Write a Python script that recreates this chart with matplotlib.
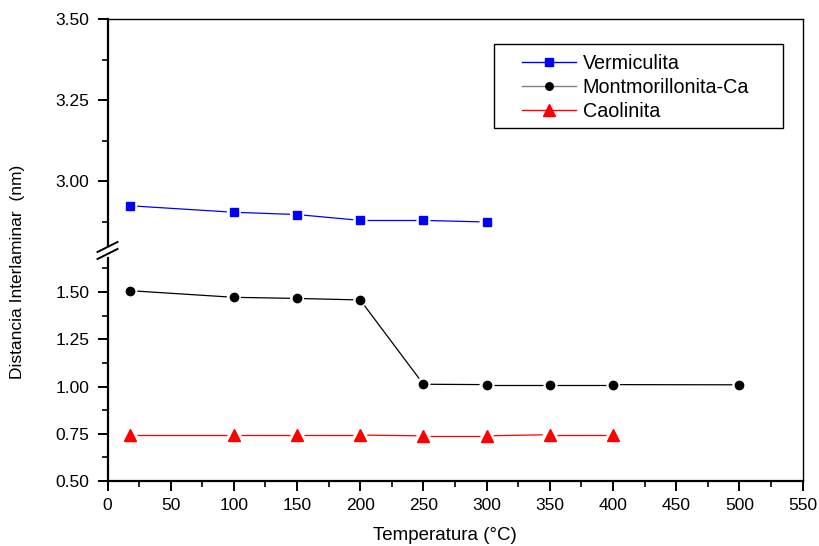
import numpy as np
import matplotlib.pyplot as plt
from matplotlib.lines import Line2D
from matplotlib.patches import Rectangle

plt.rcParams['font.family'] = ['Liberation Sans', 'DejaVu Sans']

# interlayer spacing (nm) vs temperature (C)
temp_verm = [18, 100, 150, 200, 250, 300]
d_verm = [2.924, 2.904, 2.897, 2.879, 2.879, 2.874]

temp_mont = [18, 100, 150, 200, 250, 300, 350, 400, 500]
d_mont = [1.507, 1.472, 1.466, 1.458, 1.012, 1.010, 1.010, 1.010, 1.009]

temp_caol = [18, 100, 150, 200, 250, 300, 350, 400]
d_caol = [0.743, 0.743, 0.743, 0.743, 0.739, 0.739, 0.745, 0.745]

series = [
    ('Vermiculita', temp_verm, d_verm, 's', 'blue', 'blue', 6.2),
    ('Montmorillonita-Ca', temp_mont, d_mont, 'o', 'black', 'black', 6),
    ('Caolinita', temp_caol, d_caol, '^', 'red', 'red', 9),
]

W, H = 819, 546
fig = plt.figure(figsize=(W / 100, H / 100), dpi=100)

left, right = 107.5, 802.5
def box(top_px, bot_px):
    return [left / W, 1 - bot_px / H, (right - left) / W, (bot_px - top_px) / H]

ax_top = fig.add_axes(box(19, 246))
ax_bot = fig.add_axes(box(258, 481))

ax_top.set_ylim(2.80, 3.50)
ax_bot.set_ylim(0.50, 1.68)


def gapped_line(ax, x, y, color, gap=7):
    # connect points with segments that stop short of each marker
    pts = ax.transData.transform(np.column_stack([x, y]))
    inv = ax.transData.inverted()
    for p0, p1 in zip(pts[:-1], pts[1:]):
        d = p1 - p0
        n = np.hypot(*d)
        if n <= 2 * gap:
            continue
        u = d / n
        seg = inv.transform(np.array([p0 + u * gap, p1 - u * gap]))
        ax.plot(seg[:, 0], seg[:, 1], color=color, lw=0.9,
                solid_capstyle='butt')


for ax in (ax_top, ax_bot):
    ax.set_xlim(0, 550)
    for name, x, y, mk, lc, mc, ms in series:
        gapped_line(ax, x, y, lc)
        ax.plot(x, y, ls='none', marker=mk, color=mc, ms=ms)
    ax.spines['left'].set_linewidth(1.6)
    ax.spines['right'].set_visible(False)
    ax.spines['top'].set_linewidth(1.0)
    ax.spines['bottom'].set_linewidth(1.6)
    ax.tick_params(which='major', direction='out', length=7, width=1.4,
                   labelsize=12.5, pad=6, right=False, top=False)
    ax.tick_params(which='minor', direction='out', length=4, width=1.2,
                   right=False, top=False)

ax_top.set_yticks([3.00, 3.25, 3.50])
ax_top.set_yticks([2.875, 3.125, 3.375], minor=True)
ax_top.set_yticklabels(['3.00', '3.25', '3.50'])
ax_top.spines['bottom'].set_visible(False)
ax_top.tick_params(axis='x', which='both', bottom=False, labelbottom=False)

ax_bot.set_yticks([0.50, 0.75, 1.00, 1.25, 1.50])
ax_bot.set_yticks([0.625, 0.875, 1.125, 1.375, 1.625], minor=True)
ax_bot.set_yticklabels(['0.50', '0.75', '1.00', '1.25', '1.50'])
ax_bot.spines['top'].set_visible(False)
ax_bot.set_xticks(np.arange(0, 551, 50))
ax_bot.set_xticks(np.arange(25, 551, 50), minor=True)
ax_bot.tick_params(axis='x', pad=5)

# one continuous right border over both panels
fig.add_artist(Line2D([right / W, right / W], [1 - 481 / H, 1 - 19 / H],
                      color='black', lw=1.0))

# break marks on the left axis
for y0 in (247, 254):
    fig.add_artist(Line2D([(left - 10) / W, (left + 10) / W],
                          [1 - (y0 + 5) / H, 1 - (y0 - 5) / H],
                          color='black', lw=1.4))

fig.text(18 / W, 1 - 272 / H, 'Distancia Interlaminar  (nm)', rotation=90,
         ha='center', va='center', fontsize=12.5)
fig.text(445 / W, 1 - 535 / H, 'Temperatura (°C)', ha='center', va='center',
         fontsize=13.5)

handles = [Line2D([], [], color=lc, lw=1.0, marker=mk, mfc=mc, mec=mc,
                  ms=ms * 0.9, label=name)
           for name, x, y, mk, lc, mc, ms in series]
handles[1].set_color('gray')
handles[1].set_markerfacecolor('black')
handles[1].set_markeredgecolor('black')
leg = fig.legend(handles=handles, loc='upper left',
                 bbox_to_anchor=(522 / W, 1 - 54 / H), borderaxespad=0,
                 borderpad=0, fontsize=14.2, frameon=False, handlelength=2.75,
                 labelspacing=0.26, handletextpad=0.33)
fig.add_artist(Rectangle((494 / W, 1 - 128 / H), (783 - 494) / W, 84 / H,
                         transform=fig.transFigure, fill=False,
                         edgecolor='black', lw=1.0))

fig.savefig('out.png', dpi=100)
